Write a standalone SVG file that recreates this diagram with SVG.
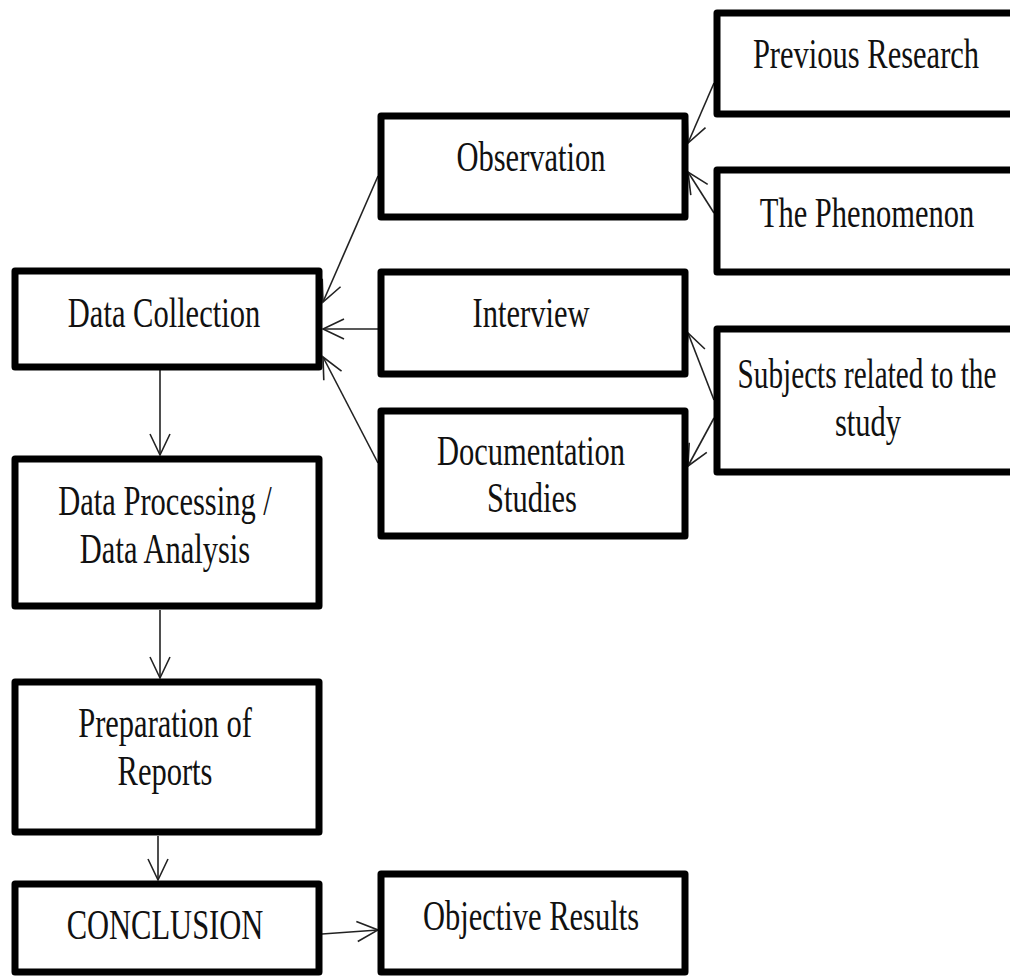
<svg xmlns="http://www.w3.org/2000/svg" width="1010" height="977" viewBox="0 0 1010 977">
  <style>
    .box { fill: #ffffff; stroke: #000000; stroke-width: 7; stroke-linejoin: round; }
    .lbl { font-family: "Liberation Serif", "Times New Roman", serif; font-size: 43px; fill: #111111; text-anchor: middle; }
    .conn { fill: none; stroke: #222222; stroke-width: 1.6; marker-end: url(#ah); }
  </style>
  <defs>
    <!-- open V arrowhead -->
    <marker id="ah" markerUnits="userSpaceOnUse" markerWidth="30" markerHeight="30" viewBox="-25 -15 30 30" refX="0" refY="0" orient="auto">
      <path d="M-21,-10 L0,0 L-21,10" fill="none" stroke="#222222" stroke-width="1.6"/>
    </marker>
  </defs>
  <rect x="0" y="0" width="1010" height="977" fill="#ffffff"/>

  <g id="connectors">
    <path class="conn" d="M378,176 L323,302"/>
    <path class="conn" d="M378,329 L323,329"/>
    <path class="conn" d="M378,463 L323,357"/>
    <path class="conn" d="M714,83 L688,143"/>
    <path class="conn" d="M714,213 L688,172"/>
    <path class="conn" d="M714,400 L688,333"/>
    <path class="conn" d="M714,418 L688,466"/>
    <path class="conn" d="M160,370 L160,455"/>
    <path class="conn" d="M160,610 L160,678"/>
    <path class="conn" d="M158,836 L158,880"/>
    <path class="conn" d="M322,934 L378,930"/>
  </g>

  <g id="previous-research">
    <rect class="box" x="717" y="13" width="320" height="101"/>
    <text class="lbl" transform="translate(866,68) scale(0.71,1)">Previous Research</text>
  </g>
  <g id="the-phenomenon">
    <rect class="box" x="717" y="170" width="320" height="102"/>
    <text class="lbl" transform="translate(867,227) scale(0.71,1)">The Phenomenon</text>
  </g>
  <g id="subjects">
    <rect class="box" x="717" y="329" width="320" height="143"/>
    <text class="lbl" transform="translate(867,388) scale(0.68,1)">Subjects related to the</text>
    <text class="lbl" transform="translate(868,436) scale(0.71,1)">study</text>
  </g>
  <g id="observation">
    <rect class="box" x="381" y="116" width="304" height="101"/>
    <text class="lbl" transform="translate(531,171) scale(0.71,1)">Observation</text>
  </g>
  <g id="interview">
    <rect class="box" x="381" y="272" width="304" height="102"/>
    <text class="lbl" transform="translate(531,327) scale(0.71,1)">Interview</text>
  </g>
  <g id="documentation-studies">
    <rect class="box" x="381" y="411" width="304" height="125"/>
    <text class="lbl" transform="translate(531,465) scale(0.71,1)">Documentation</text>
    <text class="lbl" transform="translate(532,512) scale(0.71,1)">Studies</text>
  </g>
  <g id="data-collection">
    <rect class="box" x="15" y="271" width="304" height="96"/>
    <text class="lbl" transform="translate(164,327) scale(0.71,1)">Data Collection</text>
  </g>
  <g id="data-processing">
    <rect class="box" x="15" y="459" width="304" height="147"/>
    <text class="lbl" transform="translate(165,515) scale(0.71,1)">Data Processing /</text>
    <text class="lbl" transform="translate(165,563) scale(0.71,1)">Data Analysis</text>
  </g>
  <g id="preparation-of-reports">
    <rect class="box" x="15" y="682" width="304" height="150"/>
    <text class="lbl" transform="translate(165,737) scale(0.71,1)">Preparation of</text>
    <text class="lbl" transform="translate(165,785) scale(0.71,1)">Reports</text>
  </g>
  <g id="conclusion">
    <rect class="box" x="15" y="884" width="304" height="88"/>
    <text class="lbl" transform="translate(165,939) scale(0.71,1)">CONCLUSION</text>
  </g>
  <g id="objective-results">
    <rect class="box" x="381" y="874" width="304" height="98"/>
    <text class="lbl" transform="translate(531,930) scale(0.71,1)">Objective Results</text>
  </g>
</svg>
